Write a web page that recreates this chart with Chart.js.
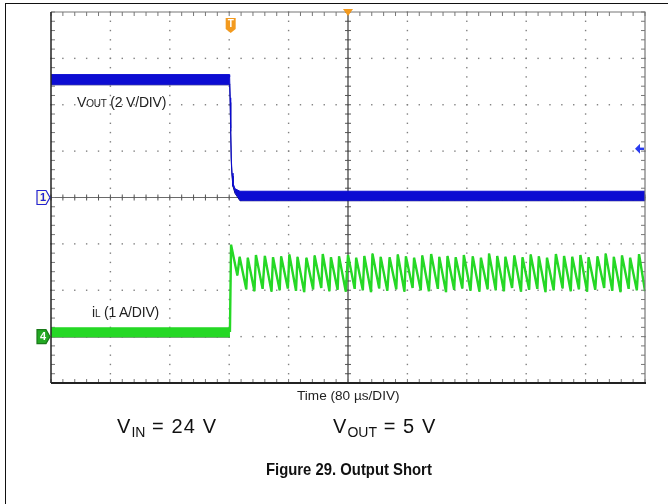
<!DOCTYPE html>
<html>
<head>
<meta charset="utf-8">
<script src="https://cdn.jsdelivr.net/npm/chart.js@4.4.0/dist/chart.umd.min.js"></script>
<style>
  body { margin: 0; background: #fff; font-family: 'Liberation Sans', Arial, sans-serif; }
  #wrap { position: relative; width: 668px; height: 504px; overflow: hidden; }
  #frame { position: absolute; left: 5px; top: 3px; width: 663px; height: 501px;
           border-top: 1.5px solid #111; border-left: 1.5px solid #111; box-sizing: border-box; }
  canvas { position: absolute; left: 0; top: 0; }
  .lbl { position: absolute; white-space: nowrap; color: #222; line-height: 1; }
  .sm { font-size: 10px; }
  .big { font-size: 20px; letter-spacing: 1.1px; color: #111; }
  .big sub { font-size: 14px; vertical-align: -4px; letter-spacing: 0; }
</style>
</head>
<body>
<div id="wrap">
  <div id="frame"></div>
  <canvas id="scope" width="668" height="504"></canvas>
  <div class="lbl" style="left:77px; top:95px; font-size:14px; letter-spacing:-0.2px;">V<span class="sm">OUT</span> (2 V/DIV)</div>
  <div class="lbl" style="left:92px; top:305px; font-size:14px; letter-spacing:-0.2px;">i<span class="sm">L</span> (1 A/DIV)</div>
  <div class="lbl" style="left:297px; top:389px; font-size:13.6px;">Time (80 µs/DIV)</div>
  <div class="lbl big" style="left:117px; top:416px;">V<sub>IN</sub> = 24 V</div>
  <div class="lbl big" style="left:333px; top:416px;">V<sub>OUT</sub> = 5 V</div>
  <div class="lbl" style="left:266px; top:461px; font-size:16.5px; font-weight:bold; color:#111; transform:scaleX(0.9); transform-origin:left top;">Figure 29. Output Short</div>
</div>
<script>
// time axis in µs (80 µs/div, 10 div), Vout 2 V/div, iL 1 A/div
const timeRange = [0, 800];
const voutRange = [-8, 8];
const ilRange = [-1, 7];
const triggerT = 242;
const trigLevelV = 2.1;

// Vout noise band (upper / lower envelope), volts
const vBandT  = [0, 240.2, 240.6, 241.3, 242.0, 242.8, 243.8, 245.1, 247.8, 254.5, 800];
const vBandHi = [5.30, 5.30, 5.20, 4.30, 3.00, 1.70, 1.05, 0.62, 0.38, 0.27, 0.27];
const vBandLo = [4.86, 4.86, 4.90, 4.10, 2.85, 1.55, 0.92, 0.48, 0.18, -0.14, -0.14];

// iL before the short (band), amps
const iBandT  = [0, 241];
const iBandHi = [0.19, 0.19];
const iBandLo = [-0.01, -0.01];

// iL at the short: edge and first spike
const iStepT = [241, 242.5, 251];
const iStepV = [0.10, 1.98, 1.32];

// iL sawtooth after the short: peaks and valleys
const iPeakT = [254, 265, 276, 288, 299, 310, 321, 332, 344, 355, 366, 377, 388, 400, 411, 422, 433, 444, 456, 467, 478, 489, 500, 512, 523, 534, 545, 556, 568, 579, 590, 601, 612, 624, 635, 646, 657, 668, 680, 691, 702, 713, 724, 736, 747, 758, 769, 780, 792];
const iPeakV = [1.72, 1.70, 1.76, 1.74, 1.71, 1.73, 1.77, 1.72, 1.70, 1.75, 1.78, 1.71, 1.73, 1.76, 1.70, 1.74, 1.79, 1.72, 1.71, 1.77, 1.73, 1.70, 1.75, 1.78, 1.72, 1.74, 1.71, 1.76, 1.73, 1.70, 1.79, 1.74, 1.72, 1.75, 1.71, 1.77, 1.73, 1.70, 1.78, 1.74, 1.72, 1.76, 1.71, 1.73, 1.79, 1.72, 1.75, 1.70, 1.78];
const iValleyT = [263, 274, 285, 297, 308, 319, 330, 341, 353, 364, 375, 386, 397, 409, 420, 431, 442, 453, 465, 476, 487, 498, 509, 521, 532, 543, 554, 565, 577, 588, 599, 610, 621, 633, 644, 655, 666, 677, 689, 700, 711, 722, 733, 745, 756, 767, 778, 789, 800];
const iValleyV = [1.02, 0.98, 1.03, 0.97, 1.00, 1.04, 0.99, 0.96, 1.02, 1.05, 0.98, 1.01, 0.97, 1.03, 1.00, 0.96, 1.04, 0.99, 1.02, 0.97, 1.05, 1.00, 0.98, 1.03, 0.96, 1.01, 1.04, 0.99, 0.97, 1.02, 1.00, 0.98, 1.05, 0.97, 1.01, 1.03, 0.96, 1.00, 1.04, 0.98, 1.02, 0.97, 1.01, 1.05, 0.99, 0.96, 1.03, 1.00, 0.98];

const pts = (xs, ys) => xs.map((x, i) => ({ x, y: ys[i] }));

const iWave = pts(iStepT, iStepV);
iPeakT.forEach((t, i) => {
  iWave.push({ x: t, y: iPeakV[i] });
  iWave.push({ x: iValleyT[i], y: iValleyV[i] });
});

const BLUE = '#0c0cd2';
const NAVY = '#06066e';
const GREEN = '#25d825';
const DKGREEN = '#0d6e0d';

const scopeGrid = {
  id: 'scopeGrid',
  beforeDatasetsDraw(chart) {
    const { ctx, chartArea: a, scales: { x, yV } } = chart;
    const xMinor = [], yMinor = [];
    for (let v = timeRange[0]; v <= timeRange[1] + 0.01; v += 16) xMinor.push(x.getPixelForValue(v));
    for (let v = voutRange[0]; v <= voutRange[1] + 0.01; v += 0.4) yMinor.push(yV.getPixelForValue(v));
    const xMaj = xMinor.filter((_, i) => i % 5 === 0);
    const yMaj = yMinor.filter((_, i) => i % 5 === 0);
    ctx.save();
    // dotted grid
    ctx.fillStyle = '#808080';
    yMaj.slice(1, -1).forEach(py => xMinor.forEach(px => ctx.fillRect(px - 0.7, py - 0.7, 1.4, 1.4)));
    xMaj.slice(1, -1).forEach(px => yMinor.forEach(py => ctx.fillRect(px - 0.7, py - 0.7, 1.4, 1.4)));
    // centre cross with ticks
    const cx = x.getPixelForValue(400), cy = yV.getPixelForValue(0);
    ctx.strokeStyle = '#555'; ctx.lineWidth = 1.4;
    ctx.beginPath(); ctx.moveTo(cx, a.top); ctx.lineTo(cx, a.bottom); ctx.stroke();
    ctx.strokeStyle = '#6a6a6a'; ctx.lineWidth = 1.2;
    ctx.beginPath(); ctx.moveTo(a.left, cy); ctx.lineTo(a.right, cy); ctx.stroke();
    ctx.lineWidth = 1; ctx.strokeStyle = '#555';
    ctx.beginPath();
    yMinor.forEach(py => { ctx.moveTo(cx - 3, py); ctx.lineTo(cx + 3, py); });
    xMinor.forEach(px => { ctx.moveTo(px, cy - 3); ctx.lineTo(px, cy + 3); });
    ctx.stroke();
    // border ticks
    ctx.strokeStyle = '#777';
    ctx.beginPath();
    yMinor.forEach(py => { ctx.moveTo(a.left, py); ctx.lineTo(a.left + 4, py); ctx.moveTo(a.right, py); ctx.lineTo(a.right - 4, py); });
    xMinor.forEach(px => { ctx.moveTo(px, a.top); ctx.lineTo(px, a.top + 4); ctx.moveTo(px, a.bottom); ctx.lineTo(px, a.bottom - 4); });
    ctx.stroke();
    ctx.restore();
  },
  afterDatasetsDraw(chart) {
    const { ctx, chartArea: a, scales: { x, yV, yI } } = chart;
    ctx.save();
    // frame
    ctx.strokeStyle = '#777'; ctx.lineWidth = 1.2;
    ctx.beginPath(); ctx.moveTo(a.left, a.top); ctx.lineTo(a.right, a.top); ctx.lineTo(a.right, a.bottom); ctx.stroke();
    ctx.strokeStyle = '#222'; ctx.lineWidth = 1.5;
    ctx.beginPath(); ctx.moveTo(a.left, a.top); ctx.lineTo(a.left, a.bottom); ctx.stroke();
    ctx.lineWidth = 2.2;
    ctx.beginPath(); ctx.moveTo(a.left, a.bottom); ctx.lineTo(a.right + 1, a.bottom); ctx.stroke();

    const tag = (yc, fill, stroke, txt, txtCol) => {
      const r = a.left - 1, l = a.left - 14;
      ctx.beginPath();
      ctx.moveTo(l, yc - 7); ctx.lineTo(r - 4, yc - 7); ctx.lineTo(r, yc);
      ctx.lineTo(r - 4, yc + 7); ctx.lineTo(l, yc + 7); ctx.closePath();
      ctx.fillStyle = fill; ctx.fill();
      ctx.strokeStyle = stroke; ctx.lineWidth = 1.2; ctx.stroke();
      ctx.fillStyle = txtCol; ctx.font = 'bold 11px "Liberation Sans", Arial';
      ctx.textAlign = 'center'; ctx.textBaseline = 'middle';
      ctx.fillText(txt, l + 6, yc + 0.5);
    };
    tag(yV.getPixelForValue(0), '#fffbe8', '#2424d0', '1', '#2424d0');
    tag(yI.getPixelForValue(0), '#23a823', '#1a7a1a', '4', '#fff');

    // trigger position tag
    const tx = x.getPixelForValue(triggerT);
    ctx.fillStyle = '#f39a1e';
    ctx.beginPath();
    ctx.moveTo(tx - 5, a.top + 6); ctx.lineTo(tx + 5, a.top + 6); ctx.lineTo(tx + 5, a.top + 17);
    ctx.lineTo(tx, a.top + 21); ctx.lineTo(tx - 5, a.top + 17); ctx.closePath(); ctx.fill();
    ctx.fillStyle = '#fff'; ctx.font = 'bold 10px "Liberation Sans", Arial';
    ctx.textAlign = 'center'; ctx.textBaseline = 'middle';
    ctx.fillText('T', tx, a.top + 12.5);

    // delay marker at centre top
    const cx = x.getPixelForValue(400);
    ctx.fillStyle = '#f39a1e';
    ctx.beginPath(); ctx.moveTo(cx - 5, a.top - 3); ctx.lineTo(cx + 5, a.top - 3); ctx.lineTo(cx, a.top + 4); ctx.closePath(); ctx.fill();

    // trigger level arrow
    const ty = yV.getPixelForValue(trigLevelV);
    ctx.fillStyle = '#2a3cf0';
    ctx.beginPath(); ctx.moveTo(a.right - 10, ty); ctx.lineTo(a.right - 5, ty - 5); ctx.lineTo(a.right - 5, ty + 5); ctx.closePath(); ctx.fill();
    ctx.fillRect(a.right - 6, ty - 1.2, 5, 2.4);
    ctx.restore();
  }
};

const line = (data, axis, color, width, extra) => Object.assign({
  data, yAxisID: axis, borderColor: color, borderWidth: width, fill: false,
  pointRadius: 0, tension: 0, borderJoinStyle: 'bevel'
}, extra || {});

new Chart(document.getElementById('scope'), {
  type: 'line',
  data: {
    datasets: [
      line(pts(vBandT, vBandHi), 'yV', BLUE, 1, { backgroundColor: BLUE, fill: '+1' }),
      line(pts(vBandT, vBandLo), 'yV', NAVY, 1),
      line(pts(iBandT, iBandHi), 'yI', GREEN, 1, { backgroundColor: GREEN, fill: '+1' }),
      line(pts(iBandT, iBandLo), 'yI', DKGREEN, 1),
      line(iWave, 'yI', GREEN, 2.4),
      line(iWave, 'yI', DKGREEN, 0.7)
    ]
  },
  options: {
    responsive: false,
    animation: false,
    layout: { padding: { left: 51, top: 12, right: 23, bottom: 121 } },
    plugins: { legend: { display: false }, tooltip: { enabled: false } },
    scales: {
      x: { type: 'linear', min: timeRange[0], max: timeRange[1], display: false },
      yV: { type: 'linear', min: voutRange[0], max: voutRange[1], display: false },
      yI: { type: 'linear', min: ilRange[0], max: ilRange[1], display: false }
    }
  },
  plugins: [scopeGrid]
});
</script>
</body>
</html>
